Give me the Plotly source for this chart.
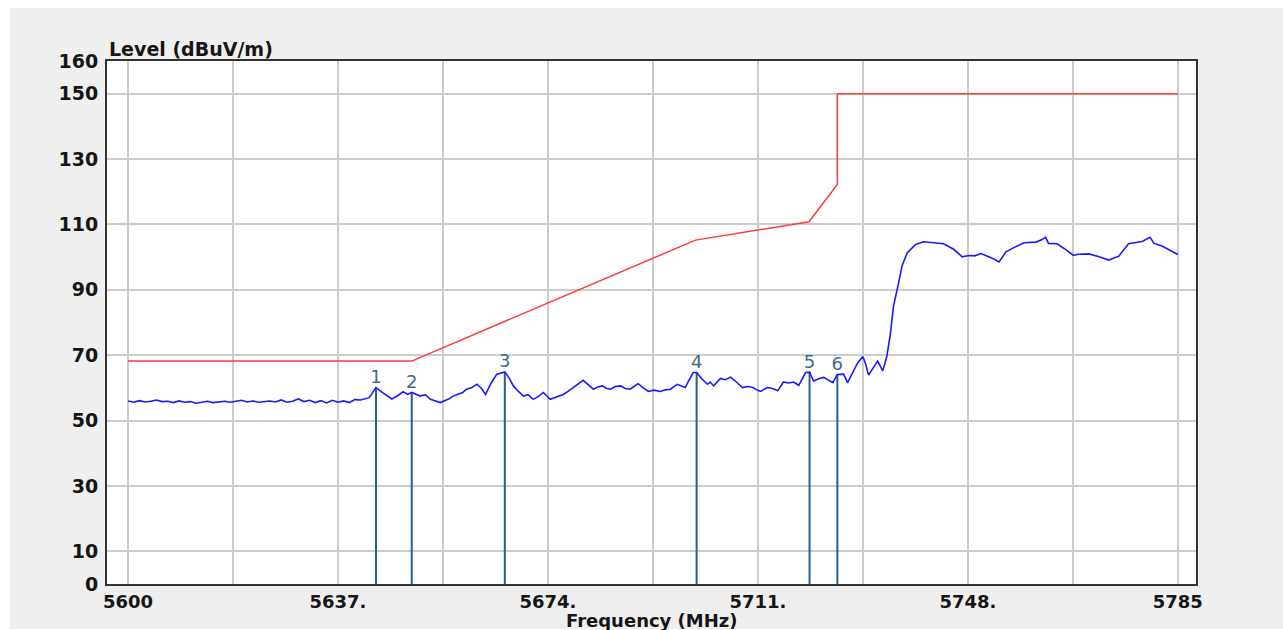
import plotly.graph_objects as go

# Measured emission scan (frequency in MHz, level in dBuV/m)
scan_freq = [
    5600, 5601, 5602, 5603, 5604, 5605, 5606, 5607, 5608, 5609,
    5610, 5611, 5612, 5613, 5614, 5615, 5616, 5617, 5618, 5619,
    5620, 5621, 5622, 5623, 5624, 5625, 5626, 5627, 5628, 5629,
    5630, 5631, 5632, 5633, 5634, 5635, 5636, 5637, 5638, 5639,
    5640, 5641, 5642.5, 5643.7, 5645.0, 5646.5, 5647.5, 5648.5, 5649.3, 5650.0,
    5651.5, 5652.4, 5653.3, 5654.2, 5655.0, 5656.4, 5657.2, 5658.0, 5659.0, 5659.6,
    5660.5, 5661.5, 5662.3, 5663.0, 5664.0, 5665.0, 5665.7, 5666.4, 5667.2, 5667.9,
    5668.8, 5669.7, 5670.5, 5671.4, 5672.3, 5673.2, 5674.4, 5675.5, 5676.7, 5677.6,
    5678.5, 5679.3, 5680.2, 5681.1, 5682.0, 5682.8, 5683.6, 5684.3, 5685.0, 5685.9,
    5686.8, 5687.6, 5688.5, 5689.2, 5689.9, 5690.8, 5691.7, 5692.7, 5693.8, 5694.7,
    5695.6, 5696.2, 5696.8, 5697.5, 5698.2, 5698.9, 5699.6, 5700.2, 5701.1, 5702.1,
    5702.6, 5703.2, 5703.8, 5704.4, 5705.3, 5706.2, 5707.2, 5708.3, 5709.2, 5710.1,
    5710.8, 5711.5, 5712.1, 5712.7, 5713.6, 5714.5, 5715.5, 5716.4, 5717.3, 5718.2,
    5719.4, 5720.1, 5720.8, 5721.7, 5722.6, 5723.4, 5724.2, 5725.0, 5726.1, 5726.8,
    5727.7, 5728.6, 5729.5, 5730.0, 5730.5, 5731.3, 5732.1, 5733.0, 5733.7, 5734.3,
    5734.9, 5735.8, 5736.4, 5737.3, 5738.8, 5740.2, 5742.0, 5743.7, 5745.5, 5747.0,
    5748.2, 5749.2, 5750.3, 5751.4, 5752.5, 5753.5, 5754.7, 5756.1, 5757.9, 5760.0,
    5761.0, 5761.7, 5762.2, 5763.7, 5765.2, 5766.6, 5767.5, 5769.3, 5771.0, 5772.8,
    5774.6, 5776.3, 5778.7, 5780.1, 5780.8, 5782.2, 5783.6, 5785.0,
]
scan_level = [
    56.0, 55.6, 56.1, 55.7, 55.9, 56.3, 55.8, 55.9, 55.5, 56.0,
    55.6, 55.8, 55.3, 55.6, 55.9, 55.5, 55.7, 55.9, 55.6, 55.8,
    56.2, 55.7, 56.0, 55.6, 55.8, 56.0, 55.7, 56.3, 55.6, 55.9,
    56.6, 55.8, 56.2, 55.5, 56.1, 55.4, 56.2, 55.6, 56.0, 55.5,
    56.4, 56.3, 57.0, 60.1, 58.4, 56.6, 57.6, 58.8, 58.0, 58.6,
    57.5, 57.9, 56.5, 56.0, 55.5, 56.5, 57.4, 58.0, 58.6, 59.5,
    60.0, 61.1, 59.8, 58.0, 61.5, 64.2, 64.5, 64.9, 62.9, 60.6,
    58.9, 57.5, 57.9, 56.5, 57.4, 58.6, 56.5, 57.2, 58.0, 59.0,
    60.1, 61.2, 62.3, 61.0, 59.6, 60.3, 60.6, 59.9, 59.6, 60.4,
    60.6, 59.8, 59.6, 60.5, 61.3, 60.0, 58.9, 59.3, 58.9, 59.4,
    59.6, 60.4, 61.1, 60.6, 60.1, 62.5, 64.7, 64.7, 62.8, 61.1,
    61.8, 60.6, 61.9, 62.9, 62.5, 63.3, 61.8, 60.1, 60.4, 60.1,
    59.4, 58.9, 59.6, 60.1, 59.8, 59.1, 61.8, 61.5, 61.8, 60.8,
    64.7, 64.8, 62.1, 62.8, 63.2, 62.3, 61.6, 64.1, 64.2, 61.6,
    64.7, 67.7, 69.6, 67.2, 63.9, 66.0, 68.2, 65.2, 69.5, 76.0,
    85.0, 92.2, 97.3, 101.3, 103.9, 104.7, 104.4, 104.1, 102.4, 100.1,
    100.5, 100.4, 101.1, 100.3, 99.5, 98.5, 101.6, 102.9, 104.4, 104.6,
    105.3, 106.1, 104.2, 104.1, 102.4, 100.5, 100.9, 101.0, 100.2, 99.1,
    100.3, 104.1, 104.8, 106.1, 104.2, 103.4, 102.0, 100.8,
]

# Limit line (dBuV/m)
limit_freq = [5600, 5650, 5700, 5720, 5725, 5725, 5785]
limit_level = [68.2, 68.2, 105.2, 110.8, 122.2, 150, 150]

# Marked peaks
marker_freq = [5643.7, 5650.0, 5666.4, 5700.2, 5720.1, 5725.0]
marker_level = [60.1, 58.6, 64.9, 64.7, 64.8, 64.1]
marker_label = ["1", "2", "3", "4", "5", "6"]

# Axis ticks
x_tickvals = [5600, 5637, 5674, 5711, 5748, 5785]
x_ticktext = ["5600", "5637.", "5674.", "5711.", "5748.", "5785"]
y_tickvals = [0, 10, 30, 50, 70, 90, 110, 130, 150, 160]

W, H = 1283, 630
ML, MR, MT, MB = 107, 87, 61, 46
TEXT = "#161616"
FONT = "DejaVu Sans"

fig = go.Figure()

# vertical drop lines for each marker, from the floor to the marked level
mx, my = [], []
for f, v in zip(marker_freq, marker_level):
    mx += [f, f, None]
    my += [0, v, None]
fig.add_trace(go.Scatter(x=mx, y=my, mode="lines",
                         line=dict(color="#2b5d8c", width=2),
                         hoverinfo="skip", showlegend=False))

fig.add_trace(go.Scatter(x=limit_freq, y=limit_level, mode="lines",
                         line=dict(color="#ff3b3b", width=1.5),
                         showlegend=False))

fig.add_trace(go.Scatter(x=scan_freq, y=scan_level, mode="lines",
                         line=dict(color="#1a1aff", width=1.6),
                         showlegend=False))

fig.add_trace(go.Scatter(x=marker_freq, y=marker_level, mode="text",
                         text=marker_label, textposition="top center",
                         textfont=dict(family=FONT, size=18, color="#3f6790"),
                         showlegend=False))

axis_font = dict(family=FONT, size=19, color=TEXT, weight="bold")
xtick_font = dict(family=FONT, size=18, color=TEXT, weight="bold")

fig.update_xaxes(
    range=[5596.3, 5788.2],
    tickmode="array", tickvals=x_tickvals, ticktext=x_ticktext,
    tickfont=xtick_font, ticks="", ticklabelstandoff=0,
    showgrid=True, gridcolor="#cccccc", gridwidth=2,
    minor=dict(tickmode="linear", tick0=5600, dtick=18.5, showgrid=True,
               gridcolor="#cccccc", gridwidth=2),
    showline=True, mirror=True, linecolor="#333333", linewidth=2,
    zeroline=False, fixedrange=True,
)
fig.update_yaxes(
    range=[0, 160],
    tickmode="array", tickvals=y_tickvals,
    tickfont=axis_font, ticks="", ticklabelstandoff=3,
    showgrid=True, gridcolor="#cccccc", gridwidth=2,
    showline=True, mirror=True, linecolor="#333333", linewidth=2,
    zeroline=False, fixedrange=True,
)

# white border strips around the grey panel
pw = W - ML - MR
ph = H - MT - MB
def px_x(p):
    return (p - ML) / pw
def px_y(p):
    return (H - MB - p) / ph

shapes = [
    dict(type="rect", xref="paper", yref="paper", x0=px_x(0), x1=px_x(W),
         y0=px_y(8), y1=px_y(0), fillcolor="white", line_width=0, layer="below"),
    dict(type="rect", xref="paper", yref="paper", x0=px_x(0), x1=px_x(10),
         y0=px_y(H), y1=px_y(0), fillcolor="white", line_width=0, layer="below"),
    dict(type="rect", xref="paper", yref="paper", x0=px_x(0), x1=px_x(W),
         y0=px_y(H), y1=px_y(629), fillcolor="white", line_width=0, layer="below"),
]

annotations = [
    dict(text="Level (dBuV/m)", xref="paper", yref="paper",
         x=px_x(107), y=px_y(49), xanchor="left", yanchor="middle",
         showarrow=False, font=axis_font),
    dict(text="Frequency (MHz)", xref="paper", yref="paper",
         x=px_x(652), y=px_y(620), xanchor="center", yanchor="middle",
         showarrow=False, font=dict(family=FONT, size=18, color=TEXT, weight="bold")),
]

fig.update_layout(
    width=W, height=H,
    margin=dict(l=ML, r=MR, t=MT, b=MB, pad=0),
    paper_bgcolor="#efefef", plot_bgcolor="white",
    shapes=shapes, annotations=annotations,
    showlegend=False,
)

fig.write_html("out.html")
